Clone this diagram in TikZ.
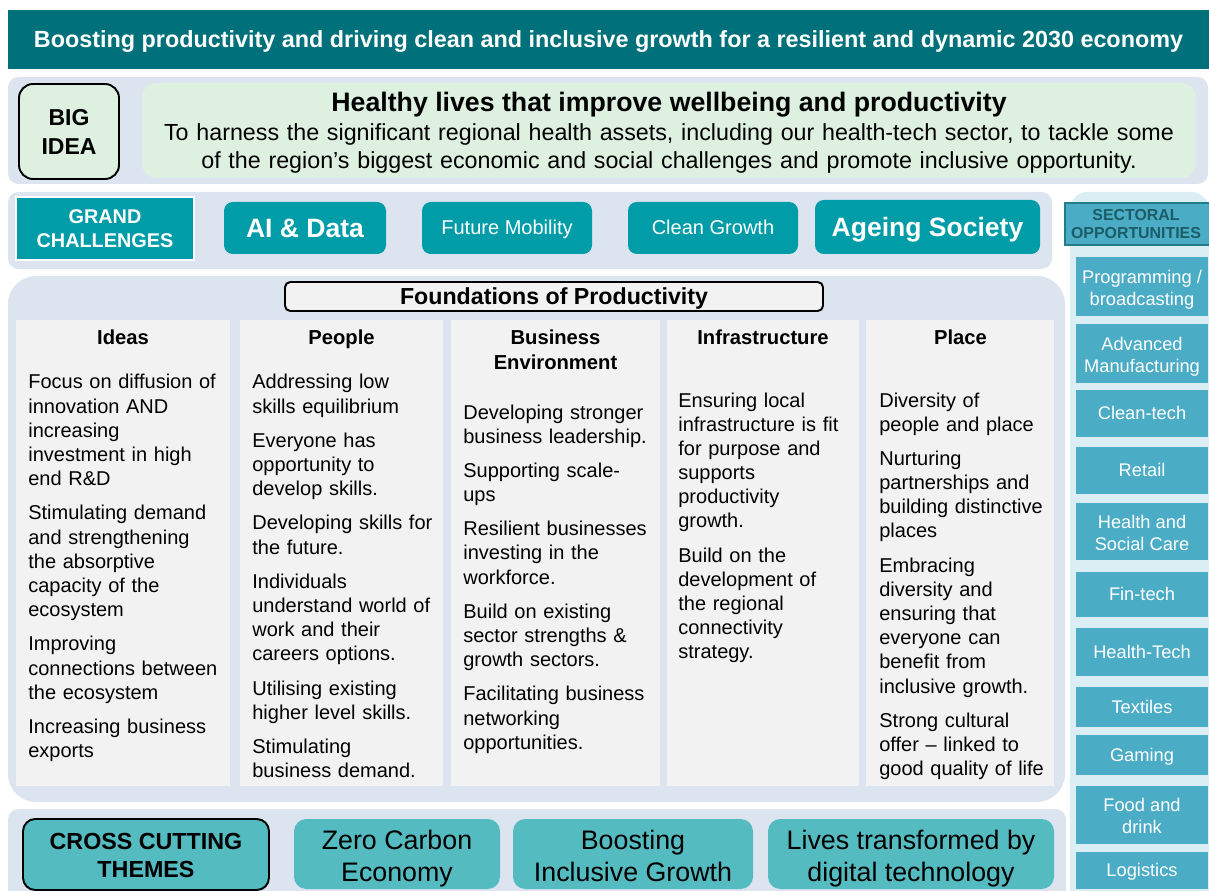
\documentclass[tikz,border=0pt]{standalone}
\usepackage{fontspec}
\setmainfont{Liberation Sans}
\usetikzlibrary{fit}

\definecolor{barteal}{RGB}{0,112,122}
\definecolor{gcteal}{RGB}{0,157,169}
\definecolor{themeteal}{RGB}{84,187,193}
\definecolor{sectorblue}{RGB}{75,172,198}
\definecolor{sectorline}{RGB}{35,125,135}
\definecolor{sectortext}{RGB}{28,92,102}
\definecolor{panebg}{RGB}{220,228,240}
\definecolor{sectorbg}{RGB}{219,238,244}
\definecolor{ideagreen}{RGB}{222,240,224}
\definecolor{colgrey}{RGB}{242,242,242}

\newcommand\setfs[2]{\fontsize{#1pt}{#2pt}\selectfont}
\newcommand\lstrut{\vrule height .905em depth .212em width 0pt}

\begin{document}
\begin{tikzpicture}[x=0.02cm, y=-0.02cm,
    pane/.style={fill=panebg, inner sep=0pt, rounded corners=6pt},
    challenge/.style={fill=gcteal, inner sep=0pt, rounded corners=5pt},
    theme/.style={fill=themeteal, inner sep=0pt, rounded corners=7pt},
    sector/.style={fill=sectorblue, inner sep=0pt},
    column/.style={fill=colgrey, inner sep=0pt},
    boxtext/.style={inner sep=0pt, align=center, execute at begin node=\lstrut, execute at end node=\lstrut},
    colhead/.style={anchor=base, text width=4cm, align=center, inner sep=0pt, font=\bfseries\setfs{11.5}{13.7}},
    colbody/.style={anchor=base west, text width=4.2cm, align=left, inner sep=0pt, font=\setfs{11.38}{13.77}}]
  \useasboundingbox (0,0) rectangle (1209,891);
  \def\gap{\\[5.7pt]}

  \node[fill=barteal, inner sep=0pt, fit={(8,10) (1209,69)}] (bar) {};
  \node[boxtext, text=white, font=\bfseries\setfs{13.3}{16}] (vision) at (bar)
    {Boosting productivity and driving clean and inclusive growth for a resilient and dynamic 2030 economy};

  % big idea
  \node[pane, fit={(8,77) (1208,184)}] (ideapane) {};
  \node[draw, line width=1.1pt, fill=ideagreen, rounded corners=8pt, inner sep=0pt, fit={(19,84) (119,179)}] (bigidea) {};
  \node[boxtext, yshift=-1.7pt, font=\bfseries\setfs{13.1}{16.5}] (bigideatext) at (bigidea) {BIG\\IDEA};
  \node[fill=ideagreen, rounded corners=8pt, inner sep=0pt, fit={(142,83) (1196,178)}] (ideabox) {};
  \node[anchor=base, inner sep=0pt, font=\bfseries\setfs{15.2}{18}] (healthy) at (669,112)
    {Healthy lives that improve wellbeing and productivity};
  \node[anchor=base, text width=20.6cm, align=center, inner sep=0pt, font=\setfs{13.24}{15.4}] (harness) at (669,141)
    {To harness the significant regional health assets, including our health-tech sector, to tackle some\\
     of the region’s biggest economic and social challenges and promote inclusive opportunity.};

  % grand challenges
  \node[pane, fit={(8,192) (1052,269)}] (gcpane) {};
  \node[fill=gcteal, draw=white, line width=1.4pt, inner sep=0pt, fit={(16,197) (194,260)}] (gc) {};
  \node[boxtext, yshift=-1.1pt, text=white, font=\bfseries\setfs{11.3}{13.7}] (gctext) at (gc) {GRAND\\CHALLENGES};
  \node[challenge, fit={(224,202) (386,254)}] (aidata) {};
  \node[boxtext, text=white, font=\bfseries\setfs{15.1}{18}] (aidatatext) at (aidata) {AI \& Data};
  \node[challenge, fit={(422,202) (592,254)}] (mobility) {};
  \node[boxtext, text=white, font=\setfs{11.4}{14}] (mobilitytext) at (mobility) {Future Mobility};
  \node[challenge, fit={(628,202) (798,254)}] (cleangrowth) {};
  \node[boxtext, text=white, font=\setfs{11.4}{14}] (cleangrowthtext) at (cleangrowth) {Clean Growth};
  \node[challenge, fit={(815,200) (1040,254)}] (ageing) {};
  \node[boxtext, text=white, font=\bfseries\setfs{15.1}{18}] (ageingtext) at (ageing) {Ageing Society};

  % foundations
  \node[pane, rounded corners=16pt, fit={(8,276) (1065,802)}] (fpane) {};
  \node[draw, line width=1.1pt, fill=colgrey, rounded corners=3pt, inner sep=0pt, fit={(285,282) (823,311)}] (fop) {};
  \node[boxtext, font=\bfseries\setfs{13.2}{16}] (foptext) at (fop) {Foundations of Productivity};
  \foreach \l/\r/\n in {16/230/ideas, 240/443/people, 451/660/business, 667/859/infra, 866/1054/place}
    \node[column, fit={(\l,320) (\r,786)}] (\n) {};

  \node[colhead] (ideashead) at (123,345) {Ideas};
  \node[colhead] (peoplehead) at (341.5,345) {People};
  \node[colhead] (businesshead) at (555.5,345) {Business\\Environment};
  \node[colhead] (infrahead) at (763,345) {Infrastructure};
  \node[colhead] (placehead) at (960.5,345) {Place};

  \node[colbody] (ideastext) at (28,389) {Focus on diffusion of\\innovation AND\\increasing\\investment in high\\end R\&D\gap
    Stimulating demand\\and strengthening\\the absorptive\\capacity of the\\ecosystem\gap
    Improving\\connections between\\the ecosystem\gap
    Increasing business\\exports};
  \node[colbody] (peopletext) at (252,389) {Addressing low\\skills equilibrium\gap
    Everyone has\\opportunity to\\develop skills.\gap
    Developing skills for\\the future.\gap
    Individuals\\understand world of\\work and their\\careers options.\gap
    Utilising existing\\higher level skills.\gap
    Stimulating\\business demand.};
  \node[colbody] (businesstext) at (463,419) {Developing stronger\\business leadership.\gap
    Supporting scale-\\ups\gap
    Resilient businesses\\investing in the\\workforce.\gap
    Build on existing\\sector strengths \&\\growth sectors.\gap
    Facilitating business\\networking\\opportunities.};
  \node[colbody] (infratext) at (678,407) {Ensuring local\\infrastructure is fit\\for purpose and\\supports\\productivity\\growth.\gap
    Build on the\\development of\\the regional\\connectivity\\strategy.};
  \node[colbody] (placetext) at (879,407) {Diversity of\\people and place\gap
    Nurturing\\partnerships and\\building distinctive\\places\gap
    Embracing\\diversity and\\ensuring that\\everyone can\\benefit from\\inclusive growth.\gap
    Strong cultural\\offer – linked to\\good quality of life};

  % cross cutting themes
  \node[pane, fit={(8,809) (1066,910)}] (themepane) {};
  \node[theme, draw, line width=1.1pt, fit={(23,819) (269,890)}] (cross) {};
  \node[boxtext, yshift=-1.7pt, font=\bfseries\setfs{13.25}{15.9}] (crosstext) at (cross) {CROSS CUTTING\\THEMES};
  \foreach \l/\r/\n/\s in {294/500/zerocarbon/{Zero Carbon\\Economy}, 513/753/inclusive/{Boosting\\Inclusive Growth},
      768/1054/digital/{Lives transformed by\\digital technology}}
  {
    \node[theme, fit={(\l,819) (\r,889)}] (\n) {};
    \node[boxtext, yshift=-2.8pt, font=\setfs{15.25}{18.2}] (\n text) at (\n) {\s};
  }

  % sectoral opportunities
  \node[fill=sectorbg, inner sep=0pt, rounded corners=10pt, fit={(1070,192) (1209,910)}] (sectorpane) {};
  \node[fill=sectorblue, draw=sectorline, line width=1pt, inner sep=0pt, fit={(1065,203) (1210,245)}] (sectoral) {};
  \node[boxtext, yshift=-1.1pt, text=sectortext, font=\bfseries\setfs{9.05}{10.25}] (sectoraltext) at (1136,224) {SECTORAL\\OPPORTUNITIES};
  \foreach \t/\b/\s/\dy [count=\i] in {257/316/{Programming /\\broadcasting}/1.7, 324/383/{Advanced\\Manufacturing}/1.7,
      390/437/Clean-tech/0, 447/494/Retail/0, 503/560/{Health and\\Social Care}/1.7, 572/617/Fin-tech/0,
      628/676/Health-Tech/0, 687/727/Textiles/0, 735/775/Gaming/0, 786/844/{Food and\\drink}/1.7, 852/889/Logistics/0}
  {
    \node[sector, fit={(1076,\t) (1208,\b)}] (sector\i) {};
    \node[boxtext, yshift=-\dy pt, text=white, font=\setfs{10.4}{12.5}] (sector\i text) at (sector\i) {\s};
  }
\end{tikzpicture}
\end{document}
